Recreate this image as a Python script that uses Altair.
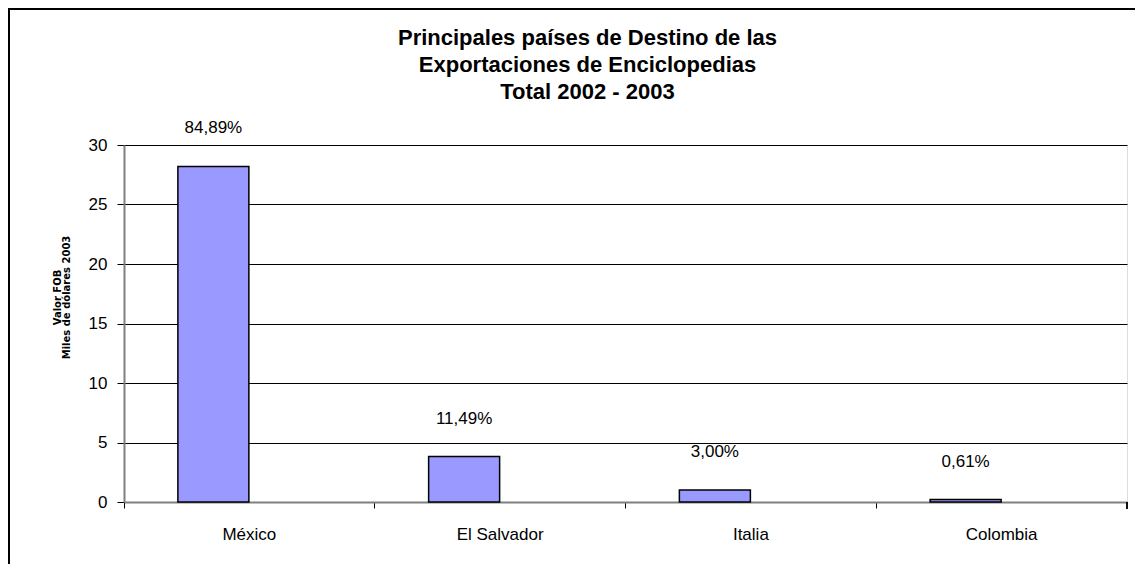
import altair as alt
import pandas as pd

countries = ["México", "El Salvador", "Italia", "Colombia"]
values = [28.2, 3.82, 1.0, 0.2]
pct_labels = ["84,89%", "11,49%", "3,00%", "0,61%"]

df = pd.DataFrame({"pais": countries, "valor": values, "pct": pct_labels})

W, H = 1003, 357
FONT = "Liberation Sans"
SHIFT = -36

x_enc = alt.X("pais:N", sort=countries,
              scale=alt.Scale(paddingInner=0, paddingOuter=0),
              axis=alt.Axis(title=None, bandPosition=0, labelAngle=0,
                            labelFontSize=17, labelPadding=18, tickSize=6,
                            domainColor="#808080", domainWidth=2, tickColor="#000000",
                            labelColor="#000000", labelFont=FONT, grid=False))
y_enc = alt.Y("valor:Q",
              scale=alt.Scale(domain=[0, 30], nice=False),
              axis=alt.Axis(values=[0, 5, 10, 15, 20, 25, 30],
                            title=["Valor FOB", "Miles de dólares 2003"],
                            titleFontSize=10, titleFontWeight="bold", titleFont="DejaVu Sans",
                            titleLineHeight=9, titleAngle=270, titleX=-67, titleY=152,
                            titleAlign="center", titleBaseline="middle",
                            labelFontSize=17, labelFont=FONT, labelColor="#000000",
                            labelPadding=10, tickSize=7, tickColor="#000000",
                            domainColor="#808080", domainWidth=2,
                            grid=True, gridColor="#000000", gridWidth=1))

bars = alt.Chart(df).mark_bar(size=71, color="#9999FF", stroke="#000000",
                              strokeWidth=1.5, xOffset=SHIFT).encode(x=x_enc, y=y_enc)

labels = alt.Chart(df).mark_text(fontSize=17, font=FONT, color="#000000",
                                 baseline="middle", dy=-38, dx=SHIFT).encode(
    x=alt.X("pais:N", sort=countries), y="valor:Q", text="pct:N")

end_tick = alt.Chart(df).mark_rule(color="#000000").encode(
    x=alt.value(W), y=alt.value(H), y2=alt.value(H + 7))

frame_left = alt.Chart(df).mark_rule(color="#000000", strokeWidth=2, clip=False).encode(
    x=alt.value(-115), y=alt.value(-136), y2=alt.value(H + 150))
frame_top = alt.Chart(df).mark_rule(color="#000000", strokeWidth=2, clip=False).encode(
    x=alt.value(-116), x2=alt.value(W + 100), y=alt.value(-136))

chart = alt.layer(frame_left, frame_top, bars, labels, end_tick).properties(
    width=W, height=H,
    title=alt.TitleParams(
        ["Principales países de Destino de las",
         "Exportaciones de Enciclopedias",
         "Total 2002 - 2003"],
        fontSize=22, font=FONT, fontWeight="bold", color="#000000",
        anchor="middle", lineHeight=27, offset=-96, dx=-38),
    autosize=alt.AutoSizeParams(type="none"),
    padding={"left": 116, "top": 137, "right": 8, "bottom": 62},
).configure_view(stroke=None).configure(background="#ffffff")

chart.save("out.html", embed_options={"renderer": "svg", "actions": False})
